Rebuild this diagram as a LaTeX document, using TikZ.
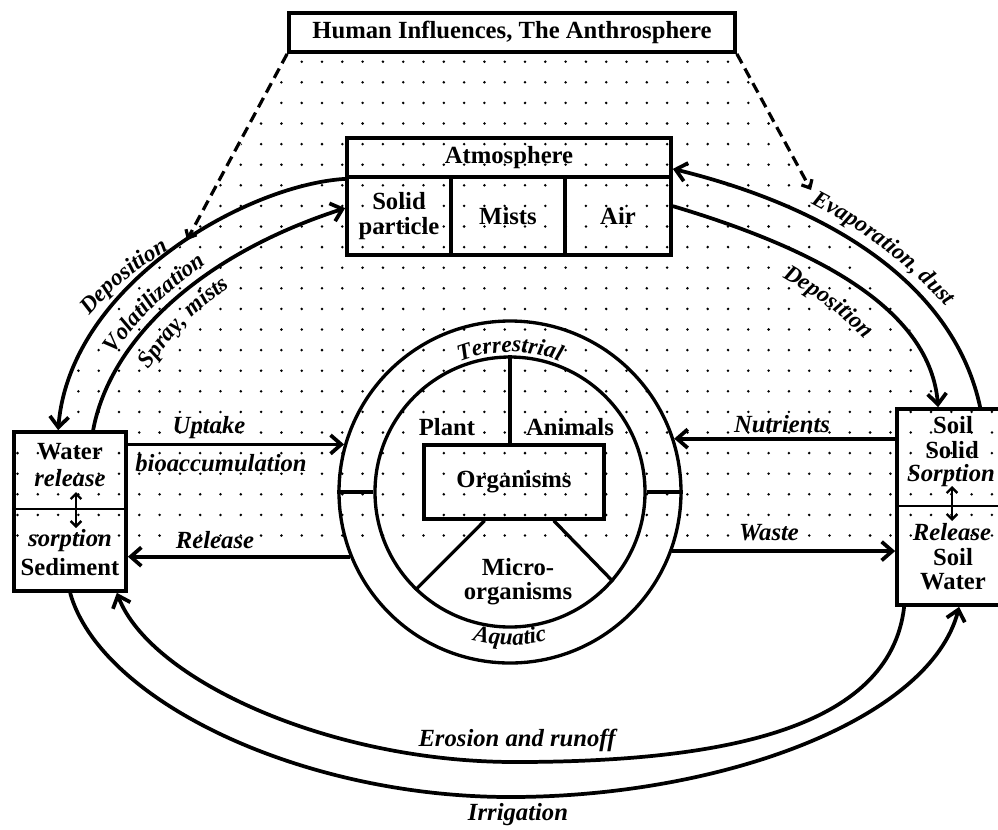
\documentclass[tikz,border=0pt]{standalone}
\usepackage{fontspec}
\setmainfont{Liberation Serif}
\usetikzlibrary{arrows.meta,calc,decorations.text}
\newcommand\mybx{\fontsize{18.5}{19}\selectfont\bfseries}
\newcommand\mylb{\fontsize{18.5}{19}\selectfont\bfseries\itshape}
\newcommand\mycl{\fontsize{17.5}{19}\selectfont\bfseries\itshape}
\begin{document}
\begin{tikzpicture}[x=0.75pt,y=0.75pt,
  box/.style={draw, line width=2.8pt, rectangle, inner sep=0pt},
  bt/.style={font=\mybx, align=center, inner sep=0pt},
  lt/.style={font=\mylb, inner sep=0pt},
  ln/.style={line width=2.5pt},
  arr/.style={line width=2.8pt, -{Straight Barb[length=8pt,width=14pt]}},
  darr/.style={line width=2.4pt, dash pattern=on 8pt off 4.5pt, -{Straight Barb[length=5pt,width=9pt]}},
  varr/.style={line width=1.8pt, {Straight Barb[length=4pt,width=8pt]}-{Straight Barb[length=4pt,width=8pt]}},
  curvlbl/.style={decorate, decoration={text along path, text align=center, text={|\mycl|#1}}},
]
\useasboundingbox (0,0) rectangle (998,-829);

% dotted background
\begin{scope}
\clip (291,-55) -- (737,-55) -- (814,-193) -- (862,-262) -- (902,-315) -- (930,-365) -- (946,-409)
  -- (1000,-409) -- (1000,-538) -- (11,-538) -- (11,-429) -- (58,-429) -- (66,-395) -- (80,-362)
  -- (110,-316) -- (150,-270) -- (188,-240) -- cycle;
\foreach \i in {0,...,48}{
  \foreach \j in {0,...,23}{
    \fill ({17.5+20.3*\i},{-61.7-20.6*\j}) circle[radius=1.4];
  }
}
\end{scope}

% title box
\node[box, minimum width=334.5pt, minimum height=29.25pt, font=\mybx] (title) at (512,-32.5) {Human Influences, The Anthrosphere};

% atmosphere
\node[box, minimum width=243pt, minimum height=29.25pt, font=\mybx] (atmh) at (509,-157.5) {Atmosphere};
\node[box, minimum width=78pt, minimum height=58.5pt] (solid) at (399,-216) {};
\node[box, minimum width=85.5pt, minimum height=58.5pt] (mists) at (508,-216) {};
\node[box, minimum width=79.5pt, minimum height=58.5pt] (air) at (618,-216) {};
\node[bt, font=\fontsize{18.5}{19}\selectfont\bfseries] at (solid.center) {Solid\\particle};
\node[bt] at (mists.center) {Mists};
\node[bt] at (air.center) {Air};

% water / sediment box
\node[box, minimum width=84pt, minimum height=119.25pt] (wbox) at (70,-511.5) {};
\draw[line width=2pt] (wbox.west |- 0,-509) -- (wbox.east |- 0,-509);
\node[bt] (wt) at (70,-452) {Water};
\node[lt] (wr) at (70,-478) {release};
\node[lt] (ws) at (70,-541) {sorption};
\node[bt] (wsd) at (70,-567) {Sediment};
\coordinate (wa1) at (76,-492);
\coordinate (wa2) at (76,-528);
\draw[varr] (wa1) -- (wa2);

% soil box
\node[box, minimum width=79.5pt, minimum height=147pt] (sbox) at (950,-507) {};
\draw[line width=2pt] (sbox.west |- 0,-506) -- (sbox.east |- 0,-506);
\node[bt] at (953,-425) {Soil};
\node[bt] at (952,-450) {Solid};
\node[lt] at (951,-476) {Sorption};
\node[lt] at (952,-532) {Release};
\node[bt] at (953,-557) {Soil};
\node[bt] at (953,-582) {Water};
\coordinate (sa1) at (952,-486);
\coordinate (sa2) at (952,-521);
\draw[varr] (sa1) -- (sa2);

% organisms circle
\node[draw, circle, line width=2.5pt, minimum size=256.5pt, inner sep=0pt] (outer) at (510,-492) {};
\node[draw, circle, line width=2.5pt, minimum size=202.5pt, inner sep=0pt] (inner) at (510,-492) {};
\node[box, line width=2.5pt, minimum width=135pt, minimum height=55.5pt, font=\mybx] (org) at (514,-482) {Organisms};
\draw[ln] (outer.180) -- (inner.180);
\draw[ln] (outer.0) -- (inner.0);
\draw[ln] (inner.90) -- (inner.90 |- org.north);
\draw[ln] ($(org.south west)!0.34!(org.south east)$) -- (inner.226.5);
\draw[ln] ($(org.south west)!0.717!(org.south east)$) -- (inner.319.5);
\node[bt] at (447,-427) {Plant};
\node[bt] at (570,-427) {Animals};
\node[bt, font=\fontsize{18.5}{18}\selectfont\bfseries] at (518,-582) {Micro-\\organisms};
\path[curvlbl={Terrestrial}] ($(outer.center)+(118:140)$) arc[start angle=118, end angle=62, radius=140];
\path[curvlbl={Aquatic}] ($(outer.center)+(240:153)$) arc[start angle=240, end angle=300, radius=153];

% horizontal arrows
\draw[arr] (wbox.east |- outer.164) -- (outer.164);
\draw[arr] (outer.202) -- (wbox.east |- outer.202);
\draw[arr] (sbox.west |- outer.18) -- (outer.18);
\draw[arr] (outer.-20) -- (sbox.west |- outer.-20);
\node[lt] at (209,-428) {Uptake};
\node[lt] at (221,-463) {bioaccumulation};
\node[lt] at (215,-540) {Release};
\node[lt] at (782,-424) {Nutrients};
\node[lt] at (769,-533) {Waste};

% dashed arrows from the anthrosphere
\coordinate (dl) at (187,-240);
\coordinate (dr) at (811,-190);
\draw[darr] (title.south west) -- (dl);
\draw[darr] (title.south east) -- (dr);

% upper arcs
\draw[arr] (atmh.south west) .. controls (245,-185) and (70,-285) .. ($(wbox.north west)+(46,0)$);
\draw[arr] ($(wbox.north west)+(81,0)$) .. controls (110,-340) and (200,-255) .. ($(solid.north west)+(0,-33)$);
\draw[arr] ($(sbox.north west)+(85,0)$) .. controls (955,-290) and (840,-210) .. ($(atmh.south east)+(0,10)$);
\draw[arr] ($(air.north east)+(0,-31)$) .. controls (820,-250) and (930,-310) .. ($(sbox.north west)+(43,0)$);
\path[curvlbl={Deposition}] (84,-322) to[bend left=10] (176,-246);
\path[curvlbl={Volatilization}] (109,-361) to[bend left=10] (213,-259);
\path[curvlbl={Spray, mists}] (145,-375) to[bend left=10] (235,-283);
\path[curvlbl={Evaporation, dust}] (804,-200) to[bend left=10] (951,-312);
\path[curvlbl={Deposition}] (775,-273) to[bend left=8] (871,-345);

% lower arcs
\coordinate (m1) at (515,-762);
\coordinate (m2) at (510,-797);
\draw[arr] ($(sbox.south west)+(9,0)$) .. controls (890,-730) and (720,-762) .. (m1)
  .. controls (330,-762) and (150,-680) .. ($(wbox.south east)+(-11,0)$);
\draw[arr] ($(wbox.south west)+(58,0)$) .. controls (100,-700) and (300,-797) .. (m2)
  .. controls (720,-797) and (930,-720) .. ($(sbox.south west)+(64,0)$);
\node[lt] at (517,-740) {Erosion and runoff};
\node[lt] at (518,-815) {Irrigation};
\end{tikzpicture}
\end{document}
